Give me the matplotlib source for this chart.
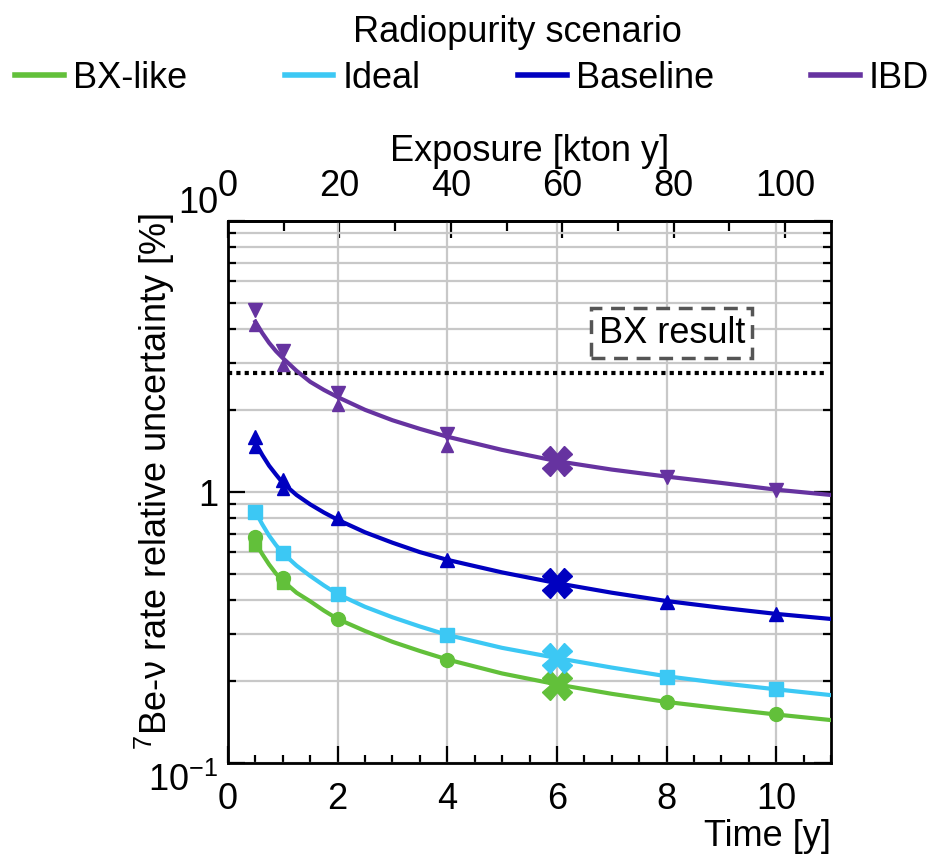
import numpy as np
import matplotlib
matplotlib.use('Agg')
import matplotlib.pyplot as plt
from matplotlib.lines import Line2D
from matplotlib.ticker import MultipleLocator, LogLocator, NullFormatter

plt.rcParams['font.family'] = ['Liberation Sans', 'DejaVu Sans']
plt.rcParams['mathtext.fontset'] = 'custom'
plt.rcParams['mathtext.rm'] = 'Liberation Sans'
plt.rcParams['mathtext.it'] = 'Liberation Sans:italic'

#%% data
scenarios = ['BX-like', 'Ideal', 'Baseline', 'IBD']
colors = ['#62c03a', '#3cc8f4', '#0000c0', '#6633a0']

# smooth fit curves (time [y] vs relative uncertainty [%])
t_curve = [0.5, 0.625, 0.75, 0.875, 1, 1.25, 1.5, 1.75, 2, 2.5, 3, 3.5, 4, 5, 6, 7, 8, 9, 10, 11]
curve_bx = [0.65, 0.59, 0.54, 0.50, 0.47, 0.425, 0.395, 0.365, 0.34, 0.307, 0.28, 0.259, 0.241,
            0.214, 0.195, 0.180, 0.168, 0.159, 0.151, 0.144]
curve_ideal = [0.846, 0.76, 0.69, 0.637, 0.595, 0.535, 0.49, 0.452, 0.42, 0.377, 0.345, 0.319, 0.297,
               0.266, 0.244, 0.225, 0.209, 0.197, 0.187, 0.178]
curve_base = [1.52, 1.37, 1.25, 1.16, 1.08, 0.975, 0.90, 0.84, 0.79, 0.71, 0.65, 0.60, 0.562,
              0.505, 0.461, 0.425, 0.396, 0.374, 0.355, 0.340]
curve_ibd = [4.25, 3.86, 3.55, 3.31, 3.12, 2.80, 2.55, 2.38, 2.24, 2.01, 1.84, 1.71, 1.60,
             1.43, 1.30, 1.21, 1.14, 1.08, 1.02, 0.975]

# sensitivity points
t_pts = [0.5, 1, 2, 4, 8, 10]
pts_bx = [0.682, 0.482, 0.340, 0.240, 0.168, 0.152]
pts_ideal = [0.846, 0.594, 0.420, 0.297, 0.208, 0.1875]
pts_base = [1.60, 1.11, 0.80, 0.561, 0.394, 0.355]
pts_ibd = [4.7, 3.30, 2.32, 1.64, 1.14, 1.02]

# second set of markers at short times
t_alt = [0.5, 1]
alt_bx = [0.637, 0.462]
alt_base = [1.47, 1.03]
t_alt_ibd = [0.5, 1, 2, 4]
alt_ibd = [4.15, 2.93, 2.09, 1.48]

# 6 y points (crosses)
t_cross = 6
cross_vals = [0.194, 0.244, 0.461, 1.30]

bx_result = 2.75
kton_per_year = 9.84

#%%
fig = plt.figure(figsize=(9.49, 8.59), dpi=100)
ax = fig.add_axes([228/949, 1-763/859, 603/949, 542/859])

curves = [curve_bx, curve_ideal, curve_base, curve_ibd]
pts = [pts_bx, pts_ideal, pts_base, pts_ibd]
mk = ['o', 's', '^', 'v']
for c, y, p, m, xv in zip(colors, curves, pts, mk, cross_vals):
    ax.plot(t_curve, y, color=c, lw=3, zorder=3)
    ax.plot(t_pts, p, ls='none', marker=m, ms=10, color=c, zorder=4)
    ax.plot([t_cross], [xv], ls='none', marker='X', ms=21, color=c, zorder=5)

ax.plot(t_alt, alt_bx, ls='none', marker='s', ms=8, color=colors[0], zorder=4)
ax.plot(t_alt, alt_base, ls='none', marker='^', ms=9, color=colors[2], zorder=4)
ax.plot(t_alt_ibd, alt_ibd, ls='none', marker='^', ms=9, color=colors[3], zorder=4)

ax.axhline(bx_result, xmin=0, xmax=0.99, color='k', lw=3, ls=(0, (1, 1)), zorder=2)
ax.text(0.736, 0.793, 'BX result', transform=ax.transAxes, ha='center', va='center',
        fontsize=26, zorder=6,
        bbox=dict(boxstyle='square,pad=0.2', fc='white', ec='#555555', ls=(0, (4, 2.5)), lw=2.5))

ax.set_yscale('log')
ax.set_ylim(0.1, 10)
ax.set_xlim(0, 11)
ax.set_yticks([0.1, 1, 10], labels=[r'$10^{-1}$', '1', '10'])
ax.yaxis.set_minor_locator(LogLocator(base=10, subs=np.arange(2, 10)))
ax.yaxis.set_minor_formatter(NullFormatter())
ax.xaxis.set_major_locator(MultipleLocator(2))
ax.xaxis.set_minor_locator(MultipleLocator(0.5))

ax.set_axisbelow(True)
ax.yaxis.grid(True, which='both', color='#c8c8c8', lw=1.6)
ax.xaxis.grid(True, which='major', color='#c8c8c8', lw=1.6)

ax.tick_params(which='both', direction='in', top=False, right=True, width=1.6, labelsize=26)
ax.tick_params(which='major', length=12)
ax.tick_params(which='minor', length=5.5)
ax.tick_params(axis='x', pad=14)
ax.tick_params(axis='y', pad=7)
for s in ax.spines.values():
    s.set_linewidth(2)

# ROOT-like placement of the end labels
ylabs = ax.get_yticklabels()
ylabs[0].set_va('top')
ylabs[2].set_va('bottom')

secax = ax.secondary_xaxis('top', functions=(lambda t: t*kton_per_year, lambda e: e/kton_per_year))
secax.xaxis.set_major_locator(MultipleLocator(20))
secax.xaxis.set_minor_locator(MultipleLocator(10))
secax.tick_params(which='both', direction='in', width=1.6, labelsize=26, pad=12)
secax.tick_params(which='major', length=12)
secax.tick_params(which='minor', length=7)
secax.spines['top'].set_linewidth(2)
secax.set_xlabel('Exposure [kton y]', fontsize=26, labelpad=6)

ax.set_xlabel('Time [y]', fontsize=26)
ax.xaxis.set_label_coords(1.0, -0.104)
ax.xaxis.label.set_ha('right')
ax.set_ylabel(r'$^{7}$Be-ν rate relative uncertainty [%]', fontsize=26)
ax.yaxis.set_label_coords(-0.085, 0.52)

#%% legend
handles = [Line2D([], [], color=c, lw=4) for c in colors]
fig.text(517/949, 1-32/859, 'Radiopurity scenario', ha='center', va='center', fontsize=26)
fig.legend(handles, scenarios, loc='center left', bbox_to_anchor=(0.016, 1-78/859), ncol=4,
           frameon=False, fontsize=26, handlelength=1.35, handletextpad=0.25,
           columnspacing=2.7, borderpad=0, borderaxespad=0)

fig.savefig('out.png', dpi=100)
